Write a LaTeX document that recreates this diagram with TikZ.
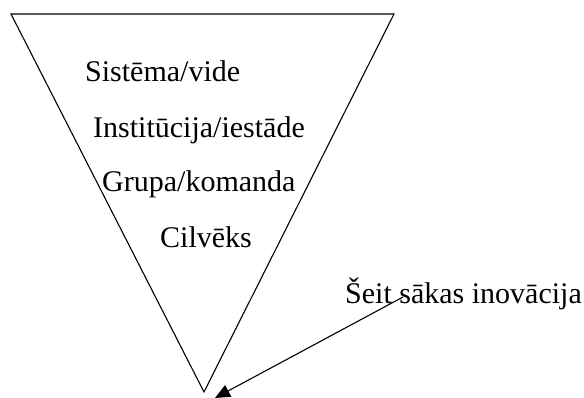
\documentclass[tikz,border=0pt]{standalone}
\usepackage{fontspec}
\setmainfont{Liberation Serif}
\usetikzlibrary{arrows.meta}
\begin{document}
\begin{tikzpicture}[x=1pt,y=-1pt,
  lbl/.style={anchor=base west,inner sep=0pt,font=\fontsize{30}{34}\selectfont},
  edge/.style={line width=1.1pt,line join=miter},
  pointer/.style={line width=1.1pt,-{Triangle[length=15pt,width=13pt]}}]
\useasboundingbox (0,0) rectangle (584,398);
\coordinate (tl) at (11,14);
\coordinate (tr) at (394,14);
\coordinate (bt) at (204,392);
\draw[edge] (tl) -- (tr) -- (bt) -- cycle;
\node[lbl] (s1) at (85,82) {Sistēma/vide};
\node[lbl] (s2) at (93,138) {Institūcija/iestāde};
\node[lbl] (s3) at (102,192) {Grupa/komanda};
\node[lbl] (s4) at (160,248) {Cilvēks};
\node[lbl] (s5) at (345,303) {Šeit sākas inovācija};
\coordinate (from) at (403,297);
\coordinate (tip) at (215,398);
\draw[pointer] (from) -- (tip);
\end{tikzpicture}
\end{document}
